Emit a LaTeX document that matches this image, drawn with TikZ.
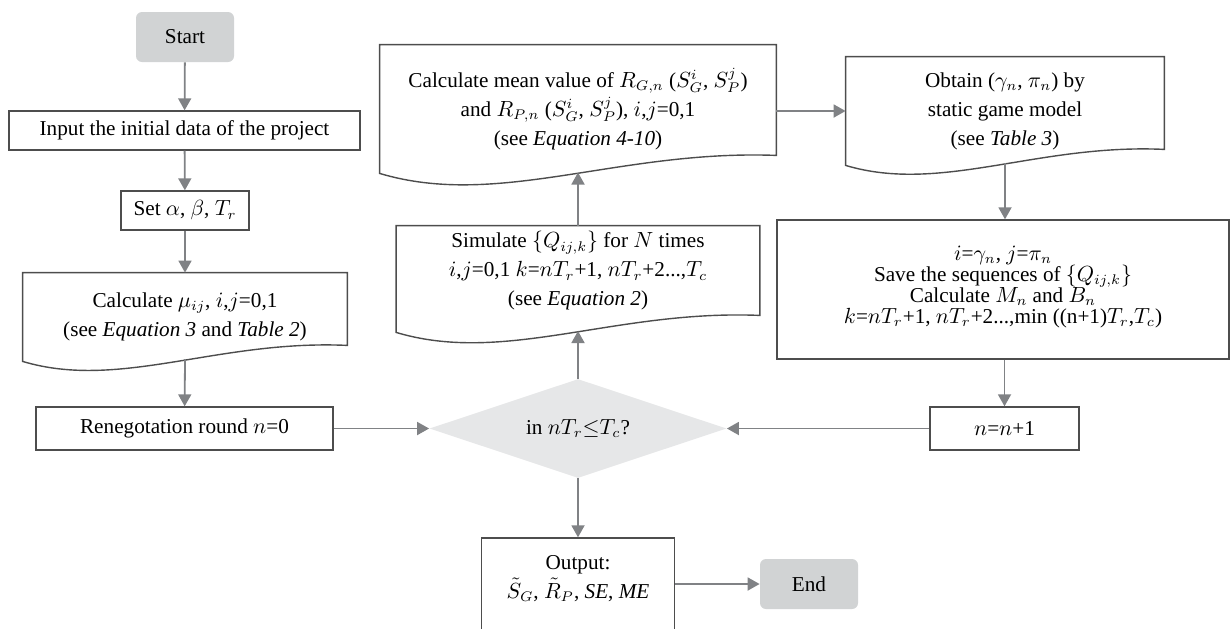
\documentclass[tikz,border=0pt]{standalone}
\usepackage{fontspec}
\setmainfont{Liberation Serif}
\usepackage{xcolor}
\usepackage{tikz}
\usetikzlibrary{positioning,arrows.meta,shapes.geometric,calc}

\definecolor{linegray}{HTML}{4D4D4D}
\definecolor{arrgray}{HTML}{808285}
\definecolor{termgray}{HTML}{D1D3D4}
\definecolor{decgray}{HTML}{E6E7E8}

\tikzset{
  boxline/.style={draw=linegray, line width=0.7pt},
  procbox/.style={boxline, rectangle, align=center, inner sep=2pt},
  docbox/.style={rectangle, align=center, inner sep=0pt},
  termbox/.style={rectangle, rounded corners=3pt, fill=termgray,
    minimum width=49pt, minimum height=25pt},
  decbox/.style={diamond, fill=decgray, aspect=3, inner sep=0pt,
    minimum width=148.5pt, minimum height=49.5pt},
  arr/.style={draw=arrgray, line width=0.9pt, -{Triangle[length=6pt,width=6.5pt]}}
}

% document outline with wavy bottom: node, width (px), rise of right end (px)
\newcommand{\docshape}[3]{%
  \draw[boxline] (#1.south west) -- (#1.north west) -- (#1.north east)
    -- ($(#1.south east)+(0,-#3)$)
    .. controls +({-0.4*#2},-6) and +({0.3*#2},{0.09*#2}) .. (#1.south west) -- cycle;}

\begin{document}
\begin{tikzpicture}[x=0.5pt, y=-0.5pt,
  every node/.style={font=\fontsize{10.6}{14.5}\selectfont}]
  \useasboundingbox (0,0) rectangle (1230,628);
  % left column
  \node[termbox] (start) at (185,37) {Start};
  \node[procbox, minimum width=175.5pt, minimum height=19.5pt] (input) at (184.5,130.5)
    {Input the initial data of the project};
  \node[procbox, minimum width=64pt, minimum height=19.5pt] (set) at (185,210.5)
    {Set $\alpha$, $\beta$, $T_r$};
  \node[docbox, minimum width=162pt, minimum height=44pt] (calcmu) at (185,317)
    {Calculate $\mu_{ij}$, $i$,$j$=0,1\\(see \textit{Equation 3} and \textit{Table 2})};
  \docshape{calcmu}{324}{16}
  \coordinate (mubot) at (185,359);
  \node[procbox, minimum width=148.5pt, minimum height=21.5pt] (reneg) at (184.5,428.5)
    {Renegotation round $n$=0};
  % middle column
  \node[decbox] (dec) at (578,428.5) {in $nT_r{\le}T_c$?};
  \node[docbox, minimum width=181.5pt, minimum height=53pt] (sim) at (578,279)
    {Simulate $\{Q_{ij,k}\}$ for $N$ times\\
     $i$,$j$=0,1 $k$=$nT_r$+1, $nT_r$+2...,$T_c$\\
     (see \textit{Equation 2})\\[-4pt]\mbox{}};
  \docshape{sim}{363}{17}
  \coordinate (simbot) at (578,331);
  \node[docbox, minimum width=198pt, minimum height=64pt] (mean) at (578,109)
    {Calculate mean value of $R_{G,n}$ ($S_G^i$, $S_P^j$)\\
     and $R_{P,n}$ ($S_G^i$, $S_P^j$), $i$,$j$=0,1\\
     (see \textit{Equation 4-10})};
  \docshape{mean}{396}{18}
  \coordinate (meanbot) at (578,172.5);
  \node[procbox, minimum width=96.5pt, minimum height=50pt] (output) at (578,588)
    {Output:\\ $\tilde{S}_G$, $\tilde{R}_P$, \textit{SE}, \textit{ME}\\[-3pt]\mbox{}};
  \node[termbox] (end) at (809,584) {End};
  % right column
  \node[docbox, minimum width=159pt, minimum height=54pt] (obtain) at (1005,111)
    {Obtain ($\gamma_n$, $\pi_n$) by\\ static game model\\ (see \textit{Table 3})};
  \docshape{obtain}{318}{16}
  \coordinate (obtbot) at (1005,163);
  \node[procbox, minimum width=226pt, minimum height=69.5pt,
    font=\fontsize{10.6}{10.5}\selectfont] (save) at (1003,289.5)
    {\mbox{}\\[-6pt]$i$=$\gamma_n$, $j$=$\pi_n$\\
     Save the sequences of $\{Q_{ij,k}\}$\\
     Calculate $M_n$ and $B_n$\\
     $k$=$nT_r$+1, $nT_r$+2...,min ((n+1)$T_r$,$T_c$)};
  \node[procbox, minimum width=74.5pt, minimum height=21.5pt] (nn) at (1004.5,428.5)
    {$n$=$n$+1};
  % connectors
  \draw[arr] (start) -- (input);
  \draw[arr] (input) -- (set);
  \draw[arr] (set) -- (calcmu.north);
  \draw[arr] (mubot) -- (reneg);
  \draw[arr] (reneg) -- (dec);
  \draw[arr] (dec) -- (simbot);
  \draw[arr] (sim) -- (meanbot);
  \draw[arr] (mean.east |- obtain) -- (obtain.west);
  \draw[arr] (obtbot) -- (obtbot |- save.north);
  \draw[arr] (nn.north |- save.south) -- (nn.north);
  \draw[arr] (nn) -- (dec);
  \draw[arr] (dec) -- (output);
  \draw[arr] (output.east |- end) -- (end);
\end{tikzpicture}
\end{document}
